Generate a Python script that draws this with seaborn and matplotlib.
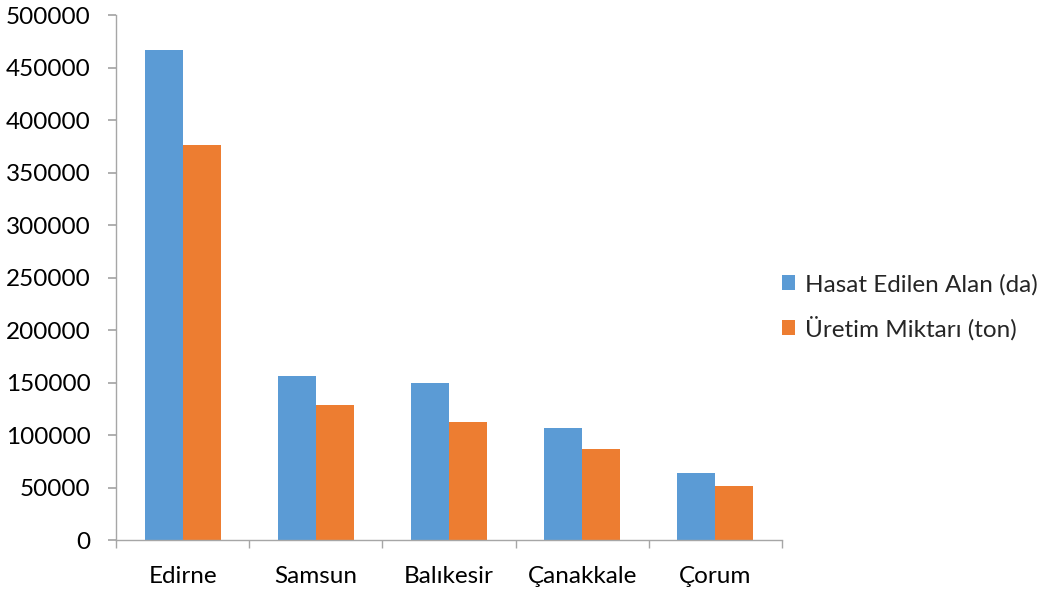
import pandas as pd
import numpy as np
import seaborn as sns
import matplotlib.pyplot as plt
from matplotlib.ticker import FixedLocator

# values
iller = ["Edirne", "Samsun", "Balıkesir", "Çanakkale", "Çorum"]
hasat_alan = [467000, 156000, 150000, 107000, 64000]
uretim = [376000, 129000, 113000, 87000, 52000]
seriler = ["Hasat Edilen Alan (da)", "Üretim Miktarı (ton)"]
renkler = ["#5B9BD5", "#ED7D31"]
y_ticks = list(range(0, 500001, 50000))

df = pd.DataFrame({
    "il": iller * 2,
    "seri": [seriler[0]] * len(iller) + [seriler[1]] * len(iller),
    "deger": hasat_alan + uretim,
})

sns.set_theme(style="white")
plt.rcParams["font.family"] = ["Lato", "DejaVu Sans"]

fig = plt.figure(figsize=(10.48, 5.94), dpi=100)
ax = fig.add_axes([0.1107, 0.0904, 0.6355, 0.8843])

sns.barplot(data=df, x="il", y="deger", hue="seri", palette=renkler,
            width=0.57, saturation=1, ax=ax, edgecolor="none")

ax.set_ylim(0, 500000)
ax.set_xlim(-0.5, len(iller) - 0.5)
ax.set_yticks(y_ticks)
ax.set_yticklabels([str(v) for v in y_ticks])
ax.set_xlabel("")
ax.set_ylabel("")

gri = "#a6a6a6"
for s in ["top", "right"]:
    ax.spines[s].set_visible(False)
for s in ["left", "bottom"]:
    ax.spines[s].set_color(gri)
    ax.spines[s].set_linewidth(1.0)

fs = 17.5
ax.tick_params(axis="y", which="major", length=6, color=gri, labelsize=fs,
               labelcolor="black", left=True, pad=12.5)
ax.tick_params(axis="x", which="major", length=0, labelsize=fs,
               labelcolor="black", pad=18.5)
ax.xaxis.set_minor_locator(FixedLocator(np.arange(-0.5, len(iller), 1.0)))
ax.tick_params(axis="x", which="minor", length=6, color=gri, bottom=True)

ax.legend(loc="center left", bbox_to_anchor=(1.0, 0.444), frameon=False,
          fontsize=fs, handlelength=0.55, handleheight=0.55, handletextpad=0.4,
          labelspacing=0.85, borderaxespad=0.0, borderpad=0.0)

fig.savefig("out.png", dpi=100)
